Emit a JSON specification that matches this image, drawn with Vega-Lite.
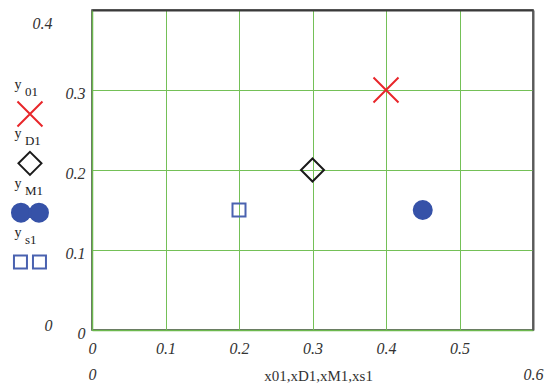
{
  "$schema": "https://vega.github.io/schema/vega-lite/v6.json",
  "width": 441,
  "height": 320,
  "autosize": {"type": "none"},
  "padding": {"left": 92, "top": 10, "right": 26, "bottom": 55},
  "background": "white",
  "view": {"stroke": "#3a3a3a", "strokeWidth": 1.5},
  "config": {
    "view": {"stroke": "#3a3a3a", "strokeWidth": 1.5},
    "axis": {"labelFont": "Liberation Serif", "labelFontStyle": "italic", "labelFontSize": 16, "labelColor": "#333333", "ticks": false, "tickSize": 0, "gridColor": "#74c057", "gridWidth": 1, "gridOpacity": 1, "domainColor": "#6cb84e", "domainWidth": 1.5, "format": "~g"}
  },
  "data": {"values": [
    {"series": "y01", "x": 0.4, "y": 0.3},
    {"series": "yD1", "x": 0.3, "y": 0.2},
    {"series": "yM1", "x": 0.45, "y": 0.15},
    {"series": "ys1", "x": 0.2, "y": 0.15}
  ]},
  "layer": [
    {
      "mark": {"type": "point", "size": 625, "strokeWidth": 2, "opacity": 1},
      "encoding": {
        "x": {"field": "x", "type": "quantitative", "scale": {"domain": [0, 0.6], "nice": false, "zero": false},
          "axis": {"orient": "bottom", "values": [0, 0.1, 0.2, 0.3, 0.4, 0.5], "format": "~g", "grid": true, "domain": true, "title": null, "labelPadding": 10, "labelFlush": false, "labelOverlap": false}},
        "y": {"field": "y", "type": "quantitative", "scale": {"domain": [0, 0.4], "nice": false, "zero": false},
          "axis": {"orient": "left", "values": [0, 0.1, 0.2, 0.3], "format": "~g", "grid": true, "domain": true, "title": null, "labelPadding": 7, "labelOffset": 3, "labelFlush": false, "labelOverlap": false}},
        "shape": {"field": "series", "type": "nominal", "legend": null,
          "scale": {"domain": ["y01", "yD1", "yM1", "ys1"], "range": [
            "M-1,-1L1,1M1,-1L-1,1",
            "M0,-0.92L0.92,0L0,0.92L-0.92,0Z",
            "M-0.72,0A0.72,0.72,0,1,0,0.72,0A0.72,0.72,0,1,0,-0.72,0Z",
            "M-0.52,-0.52H0.52V0.52H-0.52Z"
          ]}},
        "stroke": {"field": "series", "type": "nominal", "legend": null, "scale": {"domain": ["y01", "yD1", "yM1", "ys1"], "range": ["#e8262a", "#1a1a1a", "#3652a8", "#4a62b0"]}},
        "fill": {"field": "series", "type": "nominal", "legend": null, "scale": {"domain": ["y01", "yD1", "yM1", "ys1"], "range": ["transparent", "transparent", "#3652a8", "transparent"]}}
      }
    },
    {
      "mark": {"type": "point", "opacity": 0},
      "encoding": {
        "x": {"field": "x", "type": "quantitative", "scale": {"domain": [0, 0.6], "nice": false, "zero": false},
          "axis": {"orient": "bottom", "values": [0, 0.6], "format": "~g", "grid": false, "domain": false, "offset": 26, "labelPadding": 10, "labelFlush": false, "labelOverlap": false,
            "title": "x01,xD1,xM1,xs1", "titleFont": "Liberation Serif", "titleFontSize": 15, "titleFontWeight": "normal", "titleColor": "#333333", "titleX": 226, "titleY": 24, "titleBaseline": "alphabetic", "titleAlign": "center"}},
        "y": {"field": "y", "type": "quantitative", "scale": {"domain": [0, 0.4], "nice": false, "zero": false},
          "axis": {"orient": "left", "values": [0, 0.4], "format": "~g", "grid": false, "domain": false, "offset": 33, "labelPadding": 7, "labelFlush": false, "labelOverlap": false, "title": null,
            "labelOffset": {"condition": {"test": "datum.value > 0.2", "value": 13}, "value": -5}}}
      }
    },
    {
      "mark": {"type": "point", "opacity": 0},
      "encoding": {
        "x": {"field": "x", "type": "quantitative", "scale": {"domain": [0, 0.6], "nice": false, "zero": false},
          "axis": {"orient": "top", "values": [0], "grid": false, "domain": true, "domainColor": "#3a3a3a", "domainWidth": 2, "labels": false, "title": null, "zindex": 1}},
        "y": {"field": "y", "type": "quantitative", "scale": {"domain": [0, 0.4], "nice": false, "zero": false},
          "axis": {"orient": "right", "values": [0], "grid": false, "domain": true, "domainColor": "#5a5a5a", "domainWidth": 2, "labels": false, "title": null, "zindex": 1}}
      }
    },
    {
      "data": {"values": [
        {"series": "y01", "sub": "01"},
        {"series": "yD1", "sub": "D1"},
        {"series": "yM1", "sub": "M1"},
        {"series": "ys1", "sub": "s1"}
      ]},
      "mark": {"type": "point", "size": 625, "strokeWidth": 2, "opacity": 1},
      "encoding": {
        "x": {"datum": -0.0844, "type": "quantitative", "scale": {"domain": [0, 0.6], "nice": false, "zero": false}, "axis": null},
        "y": {"field": "series", "type": "nominal", "scale": {"type": "point", "domain": ["_a", "y01", "yD1", "yM1", "ys1", "_b"], "padding": 0.745, "align": 0.745}, "axis": null},
        "shape": {"field": "series", "type": "nominal", "legend": null,
          "scale": {"domain": ["y01", "yD1", "yM1", "ys1"], "range": [
            "M-1,-1L1,1M1,-1L-1,1",
            "M0,-0.92L0.92,0L0,0.92L-0.92,0Z",
            "M-1.44,0A0.72,0.72,0,1,0,0,0A0.72,0.72,0,1,0,-1.44,0ZM0,0A0.72,0.72,0,1,0,1.44,0A0.72,0.72,0,1,0,0,0Z",
            "M-1.28,-0.52H-0.24V0.52H-1.28ZM0.24,-0.52H1.28V0.52H0.24Z"
          ]}},
        "stroke": {"field": "series", "type": "nominal", "legend": null, "scale": {"domain": ["y01", "yD1", "yM1", "ys1"], "range": ["#e8262a", "#1a1a1a", "#3652a8", "#4a62b0"]}},
        "fill": {"field": "series", "type": "nominal", "legend": null, "scale": {"domain": ["y01", "yD1", "yM1", "ys1"], "range": ["transparent", "transparent", "#3652a8", "transparent"]}}
      }
    },
    {
      "data": {"values": [
        {"series": "y01", "sub": "01"},
        {"series": "yD1", "sub": "D1"},
        {"series": "yM1", "sub": "M1"},
        {"series": "ys1", "sub": "s1"}
      ]},
      "mark": {"type": "text", "font": "Liberation Serif", "fontSize": 14, "color": "#222222", "align": "left", "baseline": "alphabetic", "dx": -15.5, "dy": -25},
      "encoding": {
        "x": {"datum": -0.0844, "type": "quantitative", "scale": {"domain": [0, 0.6], "nice": false, "zero": false}, "axis": null},
        "y": {"field": "series", "type": "nominal", "scale": {"type": "point", "domain": ["_a", "y01", "yD1", "yM1", "ys1", "_b"], "padding": 0.745, "align": 0.745}, "axis": null},
        "text": {"value": "y"}
      }
    },
    {
      "data": {"values": [
        {"series": "y01", "sub": "01"},
        {"series": "yD1", "sub": "D1"},
        {"series": "yM1", "sub": "M1"},
        {"series": "ys1", "sub": "s1"}
      ]},
      "mark": {"type": "text", "font": "Liberation Serif", "fontSize": 13, "color": "#222222", "align": "left", "baseline": "alphabetic", "dx": -5, "dy": -18},
      "encoding": {
        "x": {"datum": -0.0844, "type": "quantitative", "scale": {"domain": [0, 0.6], "nice": false, "zero": false}, "axis": null},
        "y": {"field": "series", "type": "nominal", "scale": {"type": "point", "domain": ["_a", "y01", "yD1", "yM1", "ys1", "_b"], "padding": 0.745, "align": 0.745}, "axis": null},
        "text": {"field": "sub", "type": "nominal"}
      }
    }
  ],
  "resolve": {"scale": {"x": "independent", "y": "independent", "shape": "independent"}, "axis": {"x": "independent", "y": "independent"}}
}
